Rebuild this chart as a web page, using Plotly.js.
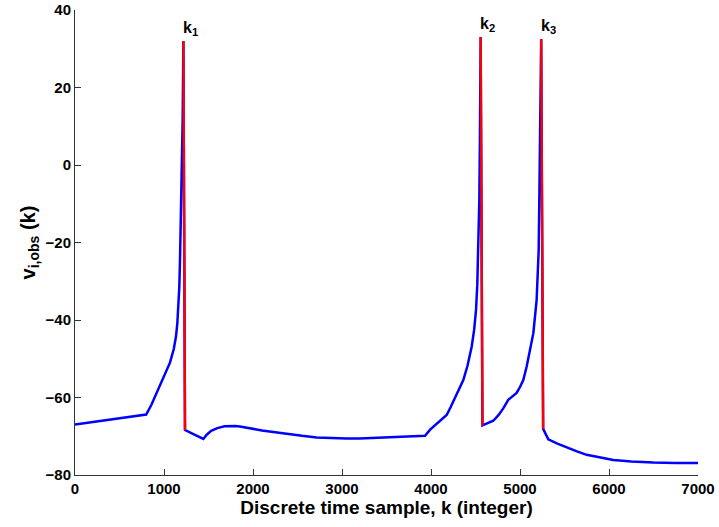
<!DOCTYPE html>
<html>
<head>
<meta charset="utf-8">
<script src="https://cdn.plot.ly/plotly-3.0.1.min.js"></script>
<style>html,body{margin:0;padding:0;background:#fff;}#chart{width:719px;height:527px;}</style>
</head>
<body>
<div id="chart"></div>
<script>
// Observed membrane potential trace (blue)
const sampleK = [0, 800, 860, 918, 1000, 1067, 1110, 1135, 1150, 1161, 1172, 1180, 1190, 1200, 1210, 1218,
  1236, 1442, 1480, 1530, 1600, 1680, 1742, 1800, 1854, 1966, 2100, 2228, 2400, 2550, 2715, 2900, 3050, 3200, 3400, 3539, 3750, 3933,
  3990, 4045, 4110, 4176, 4220, 4270, 4320, 4363, 4410, 4457, 4485, 4506, 4520, 4532, 4543, 4550, 4555, 4558,
  4578, 4640, 4700, 4760, 4812, 4868, 4920, 4962, 5000, 5037, 5075, 5115, 5150, 5187, 5200, 5210, 5217, 5226, 5233, 5238,
  5260, 5318, 5420, 5524, 5640, 5749, 5900, 6049, 6250, 6498, 6750, 7000];
const voltage = [-67, -64.4, -61.8, -58.8, -54.8, -51, -47.5, -44.2, -40.8, -37.3, -31.5, -24.4, -14, -2, 12, 32,
  -68.4, -70.7, -69.6, -68.6, -67.9, -67.4, -67.3, -67.35, -67.5, -68.0, -68.5, -68.9, -69.5, -69.9, -70.3, -70.5, -70.6, -70.6, -70.45, -70.3, -70.1, -69.9,
  -68.3, -67.1, -65.8, -64.5, -62.5, -60.2, -57.9, -55.5, -51.8, -46.9, -42.5, -37.4, -31, -21.9, -9, 8, 22, 33,
  -67.2, -66.6, -66, -64.5, -62.8, -60.6, -59.5, -58.8, -57.3, -55.5, -52, -47.8, -43.4, -34.8, -29, -21.9, -9, 8, 22, 32.5,
  -68.1, -70.8, -71.9, -72.9, -73.9, -74.8, -75.5, -76.1, -76.5, -76.8, -76.9, -76.9];

// Spike markers (red lines from peak to trough)
const spikePeakK = [1218, 4558, 5238];
const spikeTroughK = [1236, 4578, 5260];
const spikePeak = [32, 33, 32.5];
const spikeTrough = [-68.4, -67.2, -68.1];
const spikeLabels = ['k<sub>1</sub>', 'k<sub>2</sub>', 'k<sub>3</sub>'];

const xTicks = [0, 1000, 2000, 3000, 4000, 5000, 6000, 7000];
const yTicks = [-80, -60, -40, -20, 0, 20, 40];

const redX = [], redY = [];
spikePeakK.forEach((k, i) => { redX.push(k, spikeTroughK[i], null); redY.push(spikePeak[i], spikeTrough[i], null); });

const traces = [
  {x: sampleK, y: voltage, mode: 'lines', line: {color: '#0000ff', width: 2.5}, hoverinfo: 'skip'},
  {x: redX, y: redY, mode: 'lines', line: {color: '#ff0000', width: 2.4}, connectgaps: false, hoverinfo: 'skip'}
];

const font = {family: 'Liberation Sans, Arial, sans-serif', color: '#000'};

const annotations = spikePeakK.map((k, i) => ({
  x: k + 80, y: spikePeak[i] + 0.3, xref: 'x', yref: 'y',
  text: '<b>' + spikeLabels[i] + '</b>', showarrow: false,
  xanchor: 'center', yanchor: 'bottom',
  font: Object.assign({}, font, {size: 16})
}));

const layout = {
  width: 719, height: 527,
  margin: {l: 75, r: 21, t: 10, b: 52},
  paper_bgcolor: '#fff', plot_bgcolor: '#fff',
  showlegend: false,
  font: font,
  xaxis: {
    range: [0, 7000], tickvals: xTicks, ticktext: xTicks.map(v => '<b>' + v + '</b>'),
    ticks: 'inside', ticklen: 6, tickcolor: '#333', tickwidth: 1,
    showline: true, linecolor: '#333', linewidth: 1, mirror: false,
    showgrid: false, zeroline: false,
    tickfont: Object.assign({}, font, {size: 15}),
    title: {text: '<b>Discrete time sample, k (integer)</b>', font: Object.assign({}, font, {size: 19}), standoff: 0}
  },
  yaxis: {
    range: [-80, 40], tickvals: yTicks, ticktext: yTicks.map(v => '<b>' + (v < 0 ? '\u2212' + (-v) : v) + '</b>'),
    ticks: 'inside', ticklen: 6, tickcolor: '#333', tickwidth: 1,
    showline: true, linecolor: '#333', linewidth: 1, mirror: false,
    showgrid: false, zeroline: false,
    tickfont: Object.assign({}, font, {size: 15}),
    title: {text: '<b>v<sub>i,obs</sub> (k)</b>', font: Object.assign({}, font, {size: 20}), standoff: 4}
  },
  annotations: annotations
};

Plotly.newPlot('chart', traces, layout, {displayModeBar: false, staticPlot: true});
</script>
</body>
</html>
